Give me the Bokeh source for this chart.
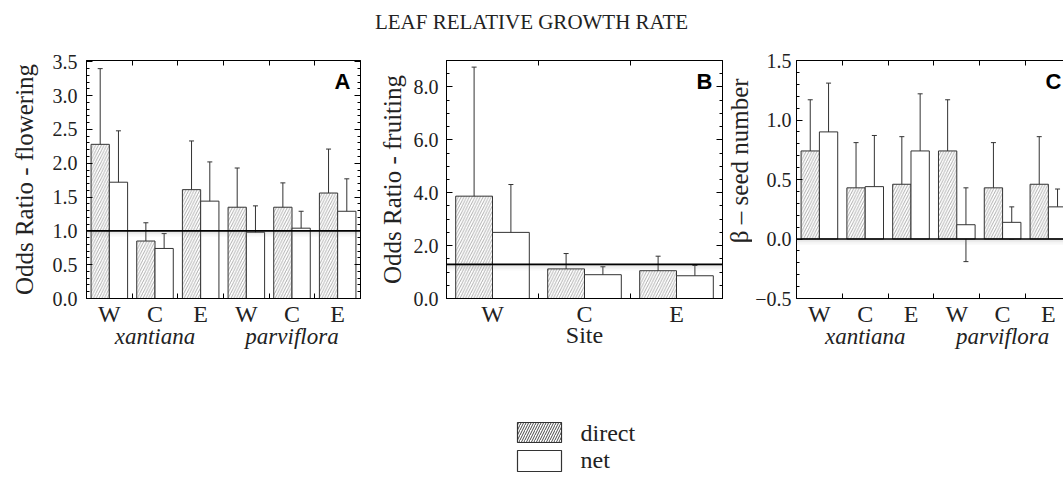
import math
from bokeh.plotting import figure
from bokeh.models import (LinearAxis, FixedTicker, SingleIntervalTicker, Range1d,
                          ColumnDataSource, Whisker, TeeHead, Label, Span, BoxAnnotation,
                          PrintfTickFormatter)
from bokeh.layouts import column, row
from bokeh.core.properties import value
from bokeh.embed import file_html
from bokeh.resources import INLINE

# ---------------- data ----------------
title_text = "LEAF RELATIVE GROWTH RATE"
sites6 = ["W", "C", "E", "W", "C", "E"]
sites3 = ["W", "C", "E"]
species = ["xantiana", "parviflora"]

# Panel A: odds ratio - flowering
A_direct = [2.28, 0.85, 1.61, 1.35, 1.35, 1.56]
A_direct_lo = [1.53, 0.65, 1.12, 0.93, 1.07, 1.12]
A_direct_hi = [3.40, 1.12, 2.33, 1.93, 1.71, 2.21]
A_net = [1.72, 0.74, 1.44, 0.98, 1.04, 1.29]
A_net_lo = [1.20, 0.57, 1.04, 0.70, 0.85, 0.95]
A_net_hi = [2.48, 0.96, 2.02, 1.37, 1.29, 1.77]
A_ref = 1.0

# Panel B: odds ratio - fruiting
B_direct = [3.87, 1.12, 1.05]
B_direct_lo = [1.70, 0.70, 0.70]
B_direct_hi = [8.75, 1.70, 1.60]
B_net = [2.50, 0.90, 0.86]
B_net_lo = [1.41, 0.66, 0.60]
B_net_hi = [4.31, 1.20, 1.25]
B_ref = 1.29

# Panel C: beta - seed number
C_direct = [0.74, 0.43, 0.46, 0.74, 0.43, 0.46]
C_direct_lo = [0.32, 0.04, 0.06, 0.32, 0.05, 0.06]
C_direct_hi = [1.17, 0.81, 0.86, 1.17, 0.81, 0.86]
C_net = [0.90, 0.44, 0.74, 0.12, 0.14, 0.27]
C_net_lo = [0.49, 0.02, 0.25, -0.19, 0.00, 0.12]
C_net_hi = [1.31, 0.87, 1.22, 0.43, 0.27, 0.42]
C_ref = 0.0
C_ylabel = "β – seed number"

legend_labels = ["direct", "net"]

SERIF = "Liberation Serif"
SANS = "Liberation Sans"
INK = "#222222"


def make_panel(width, bl, br, frame_h, ymin, ymax, interval, nminor,
               cats, direct, dlo, dhi, net, nlo, nhi, ref, ylabel, letter,
               xmax=None, groups=None, xlabel=None, fmt_over=None, right_axis=True,
               outline=True, ylabel_standoff=10, tick_standoff=9):
    n = len(cats)
    xend = n if xmax is None else xmax
    p = figure(width=width, height=330, x_range=Range1d(0, xend), y_range=Range1d(ymin, ymax),
               toolbar_location=None, output_backend="svg", min_border_left=bl,
               min_border_right=br, min_border_top=20, min_border_bottom=330 - 20 - frame_h,
               x_axis_location=None, y_axis_location=None)
    p.grid.visible = False
    p.outline_line_color = "black" if outline else None
    p.outline_line_width = 1
    p.background_fill_color = "white"
    p.border_fill_color = "white"

    centers = [i + 0.5 for i in range(n)]
    bounds = [float(i) for i in range(1, n)]
    xd = [c - 0.2 for c in centers]
    xn = [c + 0.2 for c in centers]
    sd = ColumnDataSource(dict(x=xd, top=direct, lo=dlo, hi=dhi))
    sn = ColumnDataSource(dict(x=xn, top=net, lo=nlo, hi=nhi))

    p.vbar(x="x", top="top", bottom=0, width=0.4, source=sd, fill_color="white",
           line_color="#333333", line_width=1, hatch_pattern="/", hatch_color="#8a8a8a",
           hatch_scale=5.5, hatch_weight=0.7)
    p.vbar(x="x", top="top", bottom=0, width=0.4, source=sn, fill_color="white",
           line_color="#333333", line_width=1)

    for s in (sd, sn):
        p.add_layout(Whisker(base="x", lower="lo", upper="hi", source=s, line_color="#333333",
                             line_width=1,
                             upper_head=TeeHead(size=5, line_color="#333333", line_width=1),
                             lower_head=TeeHead(size=5, line_color="#333333", line_width=1)))

    # reference line with soft shadow below
    dpx = (ymax - ymin) / frame_h
    for k, a in enumerate([0.25, 0.16, 0.09, 0.04]):
        p.add_layout(BoxAnnotation(top=ref - k * 1.5 * dpx, bottom=ref - (k + 1) * 1.5 * dpx,
                                   fill_color="#888888", fill_alpha=a, line_color=None))
    p.add_layout(Span(location=ref, dimension="width", line_color="black", line_width=1.6))

    # y axes
    yl = LinearAxis(ticker=SingleIntervalTicker(interval=interval, num_minor_ticks=nminor),
                    formatter=PrintfTickFormatter(format="%.1f"))
    if ylabel:
        yl.axis_label = ylabel
        yl.axis_label_text_font = SERIF
        yl.axis_label_text_font_style = "normal"
        yl.axis_label_text_font_size = "25px"
        yl.axis_label_text_color = INK
        yl.axis_label_standoff = ylabel_standoff
    yl.major_label_text_font = SERIF
    yl.major_label_text_font_size = "20px"
    yl.major_label_text_color = INK
    yl.major_label_standoff = tick_standoff
    yl.major_tick_in = 6
    yl.major_tick_out = 0
    yl.minor_tick_in = 3
    yl.minor_tick_out = 0
    yl.axis_line_color = "black"
    if fmt_over:
        yl.major_label_overrides = fmt_over
    p.add_layout(yl, "left")
    if right_axis:
        yr = LinearAxis(ticker=SingleIntervalTicker(interval=interval, num_minor_ticks=nminor))
        yr.major_label_text_font_size = "0px"
        yr.major_label_standoff = 0
        yr.major_tick_in = 6
        yr.major_tick_out = 0
        yr.minor_tick_in = 3
        yr.minor_tick_out = 0
        p.add_layout(yr, "right")

    # top axis with ticks at group boundaries
    xt = LinearAxis(ticker=FixedTicker(ticks=centers, minor_ticks=bounds))
    xt.major_label_text_font_size = "0px"
    xt.major_label_standoff = 0
    xt.major_tick_in = 0
    xt.major_tick_out = 0
    xt.minor_tick_in = 5
    xt.minor_tick_out = 0
    p.add_layout(xt, "above")

    # bottom axis: site labels
    xb = LinearAxis(ticker=FixedTicker(ticks=centers, minor_ticks=bounds))
    xb.major_label_overrides = {c: s for c, s in zip(centers, cats)}
    xb.major_label_text_font = SERIF
    xb.major_label_text_font_size = "24px"
    xb.major_label_text_color = INK
    xb.major_label_standoff = 2
    xb.major_tick_in = 0
    xb.major_tick_out = 0
    xb.minor_tick_in = 5
    xb.minor_tick_out = 0
    if xlabel:
        xb.axis_label = xlabel
        xb.axis_label_text_font = SERIF
        xb.axis_label_text_font_style = "normal"
        xb.axis_label_text_font_size = "24px"
        xb.axis_label_text_color = INK
        xb.axis_label_standoff = -8
    p.add_layout(xb, "below")

    if groups:
        gpos = [1.5, 4.5]
        xg = LinearAxis(ticker=FixedTicker(ticks=gpos))
        xg.major_label_overrides = {g: s for g, s in zip(gpos, groups)}
        xg.major_label_text_font = SERIF
        xg.major_label_text_font_style = "italic"
        xg.major_label_text_font_size = "23px"
        xg.major_label_text_color = INK
        xg.major_label_standoff = -12
        xg.axis_line_color = None
        xg.major_tick_line_color = None
        xg.minor_tick_line_color = None
        p.add_layout(xg, "below")

    p.add_layout(Label(x=float(n), y=ymax, x_offset=-10, y_offset=-8, text=letter,
                       text_align="right", text_baseline="top", text_font=SANS,
                       text_font_style="bold", text_font_size="22px", text_color="black"))
    return p


pA = make_panel(361, 86, 1, 238, 0, 3.52, 0.5, 5, sites6,
                A_direct, A_direct_lo, A_direct_hi, A_net, A_net_lo, A_net_hi, A_ref,
                "Odds Ratio - flowering", "A", groups=species,
                ylabel_standoff=12, tick_standoff=9)
pB = make_panel(363, 85, 2, 238, 0, 9.0, 2.0, 4, sites3,
                B_direct, B_direct_lo, B_direct_hi, B_net, B_net_lo, B_net_hi, B_ref,
                "Odds Ratio - fruiting", "B", xlabel="Site",
                ylabel_standoff=5, tick_standoff=8)

# narrow strip carrying the y-axis title of panel C (page x 724..752)
pCL = figure(width=28, height=330, x_range=Range1d(0, 28), y_range=Range1d(330, 0),
             toolbar_location=None, output_backend="svg", min_border=0,
             x_axis_location=None, y_axis_location=None)
pCL.grid.visible = False
pCL.outline_line_color = None
pCL.text(x=[15], y=[139], text=[C_ylabel], angle=math.pi / 2, text_font=value(SERIF),
         text_font_size="25px", text_align="center", text_baseline="middle", text_color=INK)

pC = make_panel(311, 44, 0, 238, -0.5, 1.5, 0.5, 5, sites6,
                C_direct, C_direct_lo, C_direct_hi, C_net, C_net_lo, C_net_hi, C_ref,
                None, "C", xmax=5.83, groups=species,
                fmt_over={-0.5: "−0.5"}, right_axis=False, outline=False,
                tick_standoff=5)

# title strip
pt = figure(width=1063, height=40, x_range=Range1d(0, 1063), y_range=Range1d(40, 0),
            toolbar_location=None, output_backend="svg", min_border=0,
            x_axis_location=None, y_axis_location=None)
pt.grid.visible = False
pt.outline_line_color = None
pt.text(x=[531], y=[21], text=[title_text], text_font=value(SERIF), text_font_size="21px",
        text_align="center", text_baseline="middle", text_color=INK)

# legend strip (page coordinates 370..484)
pl = figure(width=1063, height=114, x_range=Range1d(0, 1063), y_range=Range1d(484, 370),
            toolbar_location=None, output_backend="svg", min_border=0,
            x_axis_location=None, y_axis_location=None)
pl.grid.visible = False
pl.outline_line_color = None
pl.quad(left=[517], right=[561], top=[422], bottom=[442], fill_color="white",
        line_color="#333333", line_width=1.2, hatch_pattern="/", hatch_color="#333333",
        hatch_scale=5, hatch_weight=0.9)
pl.quad(left=[517], right=[561], top=[450], bottom=[471], fill_color="white",
        line_color="#333333", line_width=1.2)
pl.text(x=[580, 580], y=[432, 459], text=legend_labels, text_font=value(SERIF),
        text_font_size="24px", text_align="left", text_baseline="middle", text_color=INK)

layout = column(pt, row(pA, pB, pCL, pC, spacing=0), pl, spacing=0)

open("out.html", "w").write(file_html(layout, INLINE))
